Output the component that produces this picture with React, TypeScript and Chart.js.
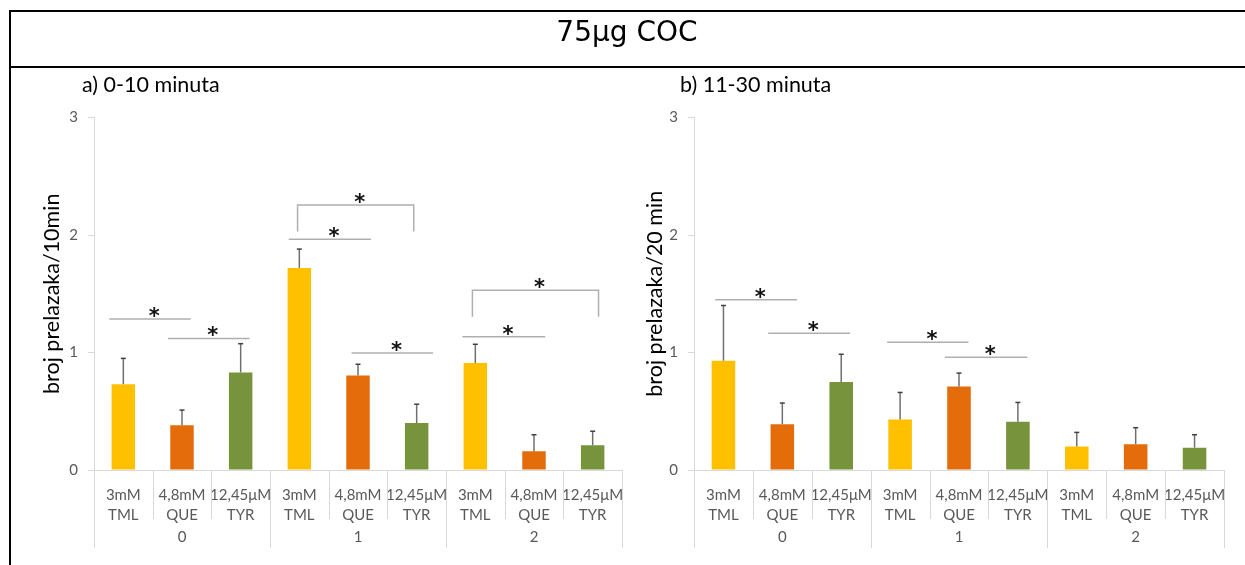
import React, { useEffect, useRef } from "react";
import { Chart, registerables } from "chart.js";

Chart.register(...registerables);

// ---------- data ----------
const subLabels: string[][] = [["3mM", "TML"], ["4,8mM", "QUE"], ["12,45μM", "TYR"]];
const groupLabels = ["0", "1", "2"];
const yTicks = [0, 1, 2, 3];

// panel a) 0-10 minuta
const tmlA = [0.73, 1.72, 0.91];
const queA = [0.38, 0.805, 0.16];
const tyrA = [0.83, 0.4, 0.21];
const tmlAErr = [0.22, 0.16, 0.16];
const queAErr = [0.13, 0.095, 0.14];
const tyrAErr = [0.245, 0.16, 0.12];

// panel b) 11-30 minuta
const tmlB = [0.93, 0.43, 0.2];
const queB = [0.39, 0.71, 0.22];
const tyrB = [0.75, 0.41, 0.19];
const tmlBErr = [0.47, 0.23, 0.12];
const queBErr = [0.18, 0.115, 0.14];
const tyrBErr = [0.235, 0.165, 0.11];

// significance brackets: category-index span, level, optional drop level
const bracketsA = [
  { from: -0.24, to: 1.15, y: 1.285 },
  { from: 0.76, to: 2.15, y: 1.12 },
  { from: 2.82, to: 4.22, y: 1.963 },
  { from: 2.97, to: 4.95, y: 2.255, drop: 2.03 },
  { from: 3.89, to: 5.28, y: 0.995 },
  { from: 5.78, to: 7.19, y: 1.135 },
  { from: 5.95, to: 8.1, y: 1.53, drop: 1.305 },
];
const bracketsB = [
  { from: -0.14, to: 1.25, y: 1.45 },
  { from: 0.76, to: 2.15, y: 1.163 },
  { from: 2.78, to: 4.16, y: 1.087 },
  { from: 3.76, to: 5.16, y: 0.96 },
];

const COLORS = ["#FFC000", "#E46C0A", "#77933C"];
const FONT = 'Lato, "Open Sans", sans-serif';

type Bracket = { from: number; to: number; y: number; drop?: number };

function interleave(a: number[], b: number[], c: number[]) {
  const out: number[] = [];
  for (let g = 0; g < a.length; g++) out.push(a[g], b[g], c[g]);
  return out;
}

function makePlugin(values: number[], errors: number[], brackets: Bracket[], yTitle: string, yTitleX: number, subTitle: string, subX: number) {
  return {
    id: "annot",
    afterDatasetsDraw(chart: any) {
      const { ctx, chartArea } = chart;
      const xs = chart.scales.x;
      const ys = chart.scales.y;
      const meta = chart.getDatasetMeta(0);
      ctx.save();
      // error bars
      ctx.lineWidth = 1.5;
      meta.data.forEach((bar: any, i: number) => {
        const top = ys.getPixelForValue(values[i] + errors[i]);
        ctx.strokeStyle = "#707070";
        ctx.beginPath();
        ctx.moveTo(bar.x, bar.y);
        ctx.lineTo(bar.x, top);
        ctx.stroke();
        ctx.beginPath();
        ctx.strokeStyle = "#404040";
        ctx.moveTo(bar.x - 2.5, top);
        ctx.lineTo(bar.x + 2.5, top);
        ctx.stroke();
      });
      // brackets
      ctx.strokeStyle = "#AFAFAF";
      ctx.lineWidth = 1.5;
      ctx.font = 'bold 21px "DejaVu Sans"';
      ctx.fillStyle = "#111";
      ctx.textAlign = "center";
      ctx.textBaseline = "alphabetic";
      const m = ctx.measureText("*");
      const half = (m.actualBoundingBoxAscent - m.actualBoundingBoxDescent) / 2;
      brackets.forEach((b) => {
        const x1 = xs.getPixelForValue(b.from);
        const x2 = xs.getPixelForValue(b.to);
        const yy = ys.getPixelForValue(b.y);
        ctx.beginPath();
        if (b.drop !== undefined) {
          const yd = ys.getPixelForValue(b.drop);
          ctx.moveTo(x1, yd);
          ctx.lineTo(x1, yy);
          ctx.lineTo(x2, yy);
          ctx.lineTo(x2, yd);
        } else {
          ctx.moveTo(x1, yy);
          ctx.lineTo(x2, yy);
        }
        ctx.stroke();
        const sx = xs.getPixelForValue((b.from + b.to) / 2 + 0.07);
        ctx.fillText("*", sx, yy - 7 + half);
      });
      // category separators and group labels
      ctx.strokeStyle = "#D9D9D9";
      ctx.lineWidth = 1;
      const bottom = chartArea.bottom;
      const n = values.length;
      for (let i = 0; i <= n; i++) {
        const px = Math.round(xs.getPixelForValue(i - 0.5)) + 0.5;
        const isGroup = i % 3 === 0;
        ctx.beginPath();
        ctx.moveTo(px, bottom);
        ctx.lineTo(px, bottom + (isGroup ? 78 : 49));
        ctx.stroke();
      }
      ctx.fillStyle = "#595959";
      ctx.font = `15px ${FONT}`;
      ctx.textAlign = "center";
      ctx.textBaseline = "middle";
      groupLabels.forEach((g, gi) => {
        ctx.fillText(g, xs.getPixelForValue(gi * 3 + 1), bottom + 67);
      });
      // y axis title
      ctx.save();
      ctx.translate(yTitleX, (chartArea.top + chartArea.bottom) / 2);
      ctx.rotate(-Math.PI / 2);
      ctx.fillStyle = "#000";
      ctx.font = `21.5px ${FONT}`;
      ctx.textAlign = "center";
      ctx.textBaseline = "middle";
      ctx.fillText(yTitle, 0, 0);
      ctx.restore();
      // subtitle
      ctx.fillStyle = "#000";
      ctx.font = `21.5px ${FONT}`;
      ctx.textAlign = "left";
      ctx.textBaseline = "middle";
      ctx.fillText(subTitle, subX, 21);
      ctx.restore();
    },
  };
}

type PanelProps = {
  left: number;
  width: number;
  yWidth: number;
  padRight: number;
  values: number[];
  errors: number[];
  brackets: Bracket[];
  yTitle: string;
  yTitleX: number;
  subTitle: string;
  subX: number;
};

function Panel(p: PanelProps) {
  const ref = useRef<HTMLCanvasElement | null>(null);
  useEffect(() => {
    if (!ref.current) return;
    const labels = groupLabels.flatMap(() => subLabels);
    const colors = groupLabels.flatMap(() => COLORS);
    const chart = new Chart(ref.current, {
      type: "bar",
      data: {
        labels,
        datasets: [
          {
            data: p.values,
            backgroundColor: colors,
            borderWidth: 0,
            barPercentage: 0.4,
            categoryPercentage: 1,
          },
        ],
      },
      options: {
        animation: false,
        responsive: false,
        devicePixelRatio: 1,
        layout: { padding: { top: 53.5, right: p.padRight, left: 0, bottom: 0 } },
        plugins: { legend: { display: false }, tooltip: { enabled: false } },
        scales: {
          x: {
            grid: { drawOnChartArea: false, drawTicks: false },
            border: { color: "#D9D9D9" },
            ticks: {
              font: { family: FONT, size: 15, lineHeight: 1.35 },
              color: "#595959",
              padding: 15,
              autoSkip: false,
              maxRotation: 0,
            },
            afterFit: (s: any) => {
              s.height = 95;
            },
          },
          y: {
            min: 0,
            max: 3,
            afterBuildTicks: (s: any) => {
              s.ticks = yTicks.map((v) => ({ value: v }));
            },
            ticks: { font: { family: FONT, size: 15 }, color: "#595959", padding: 10 },
            grid: { drawOnChartArea: false, tickLength: 6, color: "#D9D9D9" },
            border: { color: "#D9D9D9" },
            afterFit: (s: any) => {
              s.width = p.yWidth;
            },
          },
        },
      } as any,
      plugins: [makePlugin(p.values, p.errors, p.brackets, p.yTitle, p.yTitleX, p.subTitle, p.subX)],
    });
    return () => chart.destroy();
  }, []);
  return (
    <canvas
      ref={ref}
      width={p.width}
      height={501}
      style={{ position: "absolute", left: p.left, top: 64, width: p.width, height: 501, display: "block" }}
    />
  );
}

export default function App() {
  return (
    <div style={{ position: "fixed", left: 0, top: 0, width: 1245, height: 565, background: "#fff", overflow: "hidden" }}>
      <Panel
        left={0}
        width={640}
        yWidth={94}
        padRight={18}
        values={interleave(tmlA, queA, tyrA)}
        errors={interleave(tmlAErr, queAErr, tyrAErr)}
        brackets={bracketsA}
        yTitle="broj prelazaka/10min"
        yTitleX={52}
        subTitle="a) 0-10 minuta"
        subX={82}
      />
      <Panel
        left={640}
        width={605}
        yWidth={54}
        padRight={21}
        values={interleave(tmlB, queB, tyrB)}
        errors={interleave(tmlBErr, queBErr, tyrBErr)}
        brackets={bracketsB}
        yTitle="broj prelazaka/20 min"
        yTitleX={15}
        subTitle="b) 11-30 minuta"
        subX={40}
      />
      <div style={{ position: "absolute", left: 9, top: 10, width: 1236, height: 2, background: "#000" }} />
      <div style={{ position: "absolute", left: 9, top: 66, width: 1236, height: 2, background: "#000" }} />
      <div style={{ position: "absolute", left: 9, top: 10, width: 2, height: 555, background: "#000" }} />
      <div
        style={{
          position: "absolute",
          left: 9,
          width: 1236,
          top: 12,
          height: 40,
          lineHeight: "40px",
          textAlign: "center",
          fontFamily: '"DejaVu Sans", sans-serif',
          fontSize: 28,
          color: "#000",
        }}
      >
        75μg COC
      </div>
    </div>
  );
}
